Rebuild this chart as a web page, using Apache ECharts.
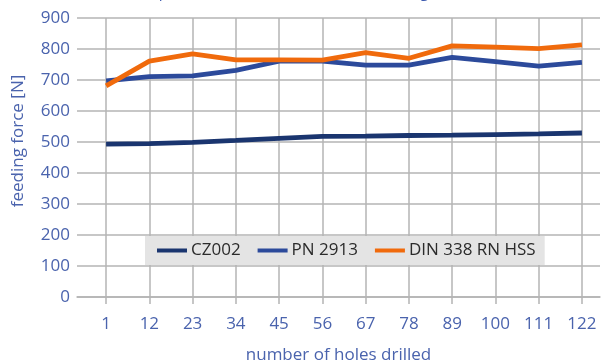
<!DOCTYPE html>
<html>
<head>
<meta charset="utf-8">
<script src="https://cdn.jsdelivr.net/npm/echarts@6/dist/echarts.min.js"></script>
<style>
  html, body { margin: 0; padding: 0; background: #fff; }
  #chart { width: 601px; height: 364px; }
</style>
</head>
<body>
<div id="chart"></div>
<script>
// Number of holes drilled at each measurement
const holes = [1, 12, 23, 34, 45, 56, 67, 78, 89, 100, 111, 122];

// Feeding force [N] per drill type
const cz002 = [493, 495, 499, 505, 512, 518, 519, 521, 522, 524, 526, 529];
const pn2913 = [697, 711, 713, 731, 761, 761, 748, 748, 773, 759, 745, 757];
const din338 = [681, 761, 784, 765, 765, 764, 788, 770, 810, 806, 801, 813];

const seriesNames = ['CZ002', 'PN 2913', 'DIN 338 RN HSS'];
const yTicks = [0, 100, 200, 300, 400, 500, 600, 700, 800, 900];

const FONT = '"Open Sans", sans-serif';
const LABEL_BLUE = '#4a63ad';
const GRID_GREY = '#b4b4b4';

const pairs = vals => holes.map((h, i) => [h, vals[i]]);

const chart = echarts.init(document.getElementById('chart'), null, { renderer: 'canvas' });

chart.setOption({
  animation: false,
  title: {
    text: 'Comparison of the feed force when drilling',
    left: 126,
    top: -15,
    padding: 0,
    textStyle: { fontFamily: FONT, fontSize: 15.2, fontWeight: 'normal', color: '#3d5aaf' }
  },
  legend: {
    data: seriesNames,
    left: 145,
    top: 236,
    padding: [6, 9, 6, 12],
    itemGap: 17,
    itemWidth: 30,
    itemHeight: 4,
    icon: 'rect',
    backgroundColor: '#e4e4e4',
    textStyle: { fontFamily: FONT, fontSize: 17, color: '#2b2b2b', padding: [0, 0, 0, -1] }
  },
  grid: { left: 77, right: 1, top: 18, bottom: 67, containLabel: false, outerBoundsMode: 'none' },
  xAxis: {
    type: 'value',
    min: -6.4,
    max: 126.6,
    name: 'number of holes drilled',
    nameLocation: 'middle',
    nameGap: 50,
    nameTextStyle: { fontFamily: FONT, fontSize: 17, color: LABEL_BLUE },
    axisLine: { show: true, lineStyle: { color: GRID_GREY, width: 1.5 } },
    axisTick: { show: true, customValues: holes, length: 7, lineStyle: { color: GRID_GREY, width: 1.5 } },
    axisLabel: {
      customValues: holes,
      margin: 19,
      fontFamily: FONT, fontSize: 17, color: LABEL_BLUE
    },
    splitLine: { show: true, lineStyle: { color: GRID_GREY, width: 1.5 } }
  },
  yAxis: {
    type: 'value',
    min: yTicks[0],
    max: yTicks[yTicks.length - 1],
    interval: 100,
    name: 'feeding force [N]',
    nameLocation: 'middle',
    nameGap: 50,
    nameTextStyle: { fontFamily: FONT, fontSize: 17, color: LABEL_BLUE, padding: [0, 0, 0, 33] },
    axisLine: { show: false },
    axisTick: { show: false },
    axisLabel: { margin: 7, fontFamily: FONT, fontSize: 17, color: LABEL_BLUE },
    splitLine: { show: true, lineStyle: { color: GRID_GREY, width: 1.5 } }
  },
  series: [
    {
      name: seriesNames[0], type: 'line', data: pairs(cz002),
      symbol: 'none', color: '#1a356f', lineStyle: { width: 4.8, color: '#1a356f' }
    },
    {
      name: seriesNames[1], type: 'line', data: pairs(pn2913),
      symbol: 'none', color: '#2c4a9b', lineStyle: { width: 4.8, color: '#2c4a9b' }
    },
    {
      name: seriesNames[2], type: 'line', data: pairs(din338),
      symbol: 'none', color: '#f06a0c', lineStyle: { width: 4.8, color: '#f06a0c' }
    }
  ]
});
</script>
</body>
</html>
